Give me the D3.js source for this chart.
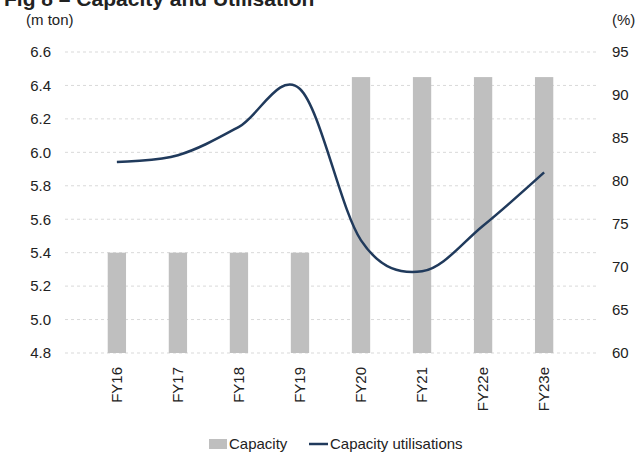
<!DOCTYPE html>
<html>
<head>
<meta charset="utf-8">
<script src="https://cdn.jsdelivr.net/npm/d3@7"></script>
<style>
  body { margin: 0; background: #fff; }
  svg text { font-family: "Liberation Sans Narrow", "Arial Narrow", "Liberation Sans", Arial, sans-serif; fill: #222; }
</style>
</head>
<body>
<div id="chart-area"></div>
<script>
const years = ["FY16", "FY17", "FY18", "FY19", "FY20", "FY21", "FY22e", "FY23e"];
const capacity = [5.4, 5.4, 5.4, 5.4, 6.45, 6.45, 6.45, 6.45];
const utilisation = [82.2, 83.0, 86.3, 90.7, 73.1, 69.5, 74.8, 81.0];
const leftTicks = [4.8, 5.0, 5.2, 5.4, 5.6, 5.8, 6.0, 6.2, 6.4, 6.6];
const rightTicks = [60, 65, 70, 75, 80, 85, 90, 95];

const drawChart = () => {
  const chartSize = { width: 638, height: 454 };
  const margin = { left: 65, right: 42, top: 52, bottom: 101 };
  const width = chartSize.width - (margin.left + margin.right);
  const height = chartSize.height - (margin.top + margin.bottom);

  const svg = d3.select("#chart-area")
    .append("svg")
    .attr("width", chartSize.width)
    .attr("height", chartSize.height);

  svg.append("text")
    .text("Fig 8 – Capacity and Utilisation")
    .attr("x", 4)
    .attr("y", 6)
    .style("font-family", "Liberation Sans, Arial, sans-serif")
    .style("font-weight", "bold")
    .style("font-size", "21px");

  svg.append("text")
    .text("(m ton)")
    .attr("x", 26)
    .attr("y", 25)
    .style("font-size", "15px");

  svg.append("text")
    .text("(%)")
    .attr("x", 612)
    .attr("y", 25)
    .style("font-size", "15px");

  const g = svg.append("g")
    .attr("transform", `translate(${margin.left}, ${margin.top})`);

  const x = d3.scaleBand()
    .domain(years)
    .range([0, width])
    .padding(0.7);

  const y = d3.scaleLinear().domain([4.8, 6.6]).range([height, 0]);
  const y2 = d3.scaleLinear().domain([60, 95]).range([height, 0]);

  g.selectAll(".grid")
    .data(leftTicks)
    .enter()
    .append("line")
    .attr("class", "grid")
    .attr("x1", 0)
    .attr("x2", width)
    .attr("y1", d => y(d))
    .attr("y2", d => y(d))
    .attr("stroke", "#d9d9d9")
    .attr("stroke-width", 1)
    .attr("stroke-dasharray", "3,3");

  const yAxis = d3.axisLeft(y).tickValues(leftTicks).tickFormat(d3.format(".1f")).tickSize(0).tickPadding(14);
  g.append("g").attr("class", "y-axis").call(yAxis);

  const yAxis2 = d3.axisRight(y2).tickValues(rightTicks).tickSize(0).tickPadding(16);
  g.append("g").attr("class", "y-axis2")
    .attr("transform", `translate(${width}, 0)`)
    .call(yAxis2);

  const xAxis = d3.axisBottom(x).tickSize(0);
  g.append("g")
    .attr("class", "x-axis")
    .attr("transform", `translate(0, ${height})`)
    .call(xAxis);

  g.selectAll(".x-axis text")
    .attr("transform", "rotate(-90)")
    .attr("text-anchor", "end")
    .attr("dy", "0.35em")
    .attr("x", -14)
    .attr("y", 0);

  g.selectAll(".domain").remove();
  g.selectAll(".tick text").style("font-size", "15px").attr("fill", "#222");

  g.selectAll("rect.bar")
    .data(years)
    .enter()
    .append("rect")
    .attr("class", "bar")
    .attr("x", d => x(d))
    .attr("y", (d, i) => y(capacity[i]))
    .attr("width", x.bandwidth())
    .attr("height", (d, i) => height - y(capacity[i]))
    .attr("fill", "#bfbfbf");

  const line = d3.line()
    .x((d, i) => x(years[i]) + x.bandwidth() / 2)
    .y(d => y2(d))
    .curve(d3.curveCardinal.tension(0));

  g.append("path")
    .datum(utilisation)
    .attr("d", line)
    .attr("fill", "none")
    .attr("stroke", "#203a5c")
    .attr("stroke-width", 2.5);

  const legend = svg.append("g").attr("class", "legend");
  legend.append("rect")
    .attr("x", 209).attr("y", 439)
    .attr("width", 18).attr("height", 10)
    .attr("fill", "#bfbfbf");
  legend.append("text")
    .text("Capacity")
    .attr("x", 229).attr("y", 449)
    .style("font-size", "15px");
  legend.append("line")
    .attr("x1", 309).attr("x2", 328)
    .attr("y1", 444).attr("y2", 444)
    .attr("stroke", "#203a5c")
    .attr("stroke-width", 2.5);
  legend.append("text")
    .text("Capacity utilisations")
    .attr("x", 330).attr("y", 449)
    .style("font-size", "15px");
};

window.onload = drawChart;
</script>
</body>
</html>
